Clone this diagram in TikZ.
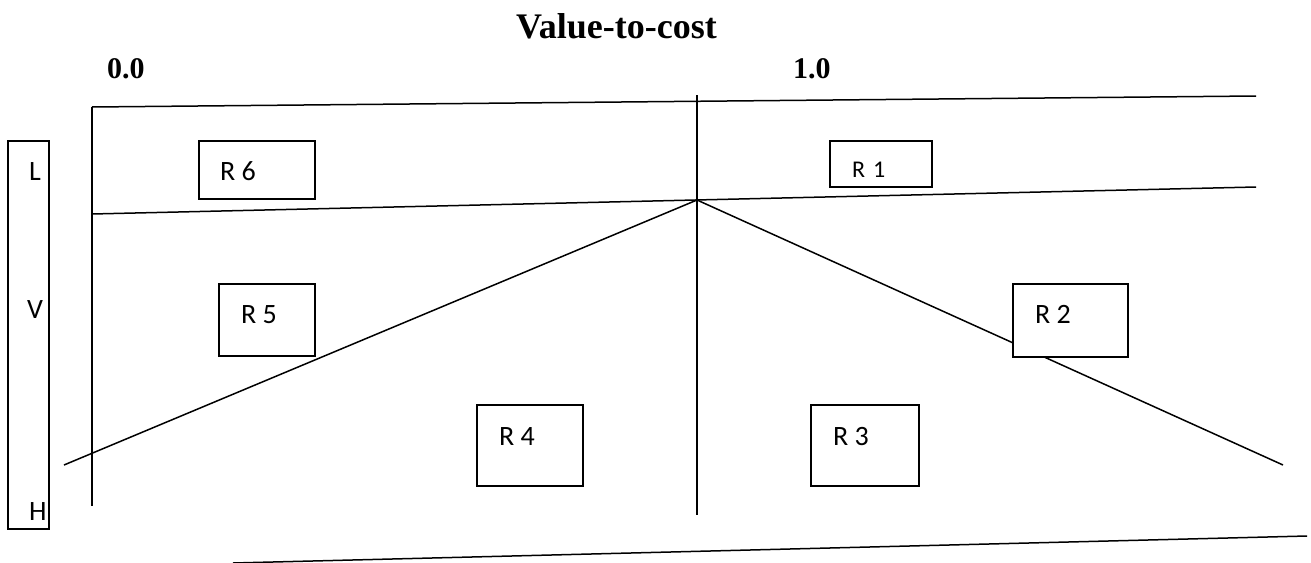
\documentclass[tikz,border=0pt]{standalone}
\usepackage{fontspec}
\setmainfont{Liberation Serif}
\newfontfamily\lblfont{Carlito}
\tikzset{
  ln/.style={line width=1.5pt, line cap=butt},
  box/.style={draw, line width=1.5pt, rectangle, inner sep=0pt},
  lbl/.style={inner sep=0pt, anchor=base west, font=\lblfont\fontsize{28}{30}\selectfont},
  smalllbl/.style={inner sep=0pt, anchor=base west, font=\lblfont\fontsize{24}{26}\selectfont},
  head/.style={inner sep=0pt, anchor=base west, font=\bfseries\fontsize{30}{32}\selectfont},
}
\begin{document}
\begin{tikzpicture}[x=1pt,y=-1pt]
\useasboundingbox (0,0) rectangle (1311,562);
% title and scale
\node[head, font=\bfseries\fontsize{36}{38}\selectfont, anchor=base east] (title) at (717,38) {Value-to-cost};
\node[head] (zero) at (107,78) {0.0};
\node[head] (one) at (793,78) {1.0};
% key points
\coordinate (tl) at (92,107);
\coordinate (tr) at (1256,96);
\coordinate (ml) at (92,214);
\coordinate (mr) at (1256,187);
\coordinate (bl) at (92,506);
\coordinate (apex) at (697,200);
\coordinate (vtop) at (697,95);
\coordinate (vbot) at (697,515);
\coordinate (dl) at (64,465);
\coordinate (dr) at (1283,465);
\coordinate (bbl) at (233,563);
\coordinate (bbr) at (1307,536);
% lines
\draw[ln] (tl) -- (tr);
\draw[ln] (ml) -- (mr);
\draw[ln] (tl) -- (bl);
\draw[ln] (vtop) -- (vbot);
\draw[ln] (apex) -- (dl);
\draw[ln] (apex) -- (dr);
\draw[ln] (bbl) -- (bbr);
% left axis box
\node[box, minimum width=41pt, minimum height=388pt] (axis) at (28.5,335) {};
\node[lbl] (lL) at (29,180) {L};
\node[lbl] (lV) at (27,318) {V};
\node[lbl] (lH) at (29,520) {H};
% region boxes
\node[box, fill=white, minimum width=116pt, minimum height=58pt] (r6) at (257,170) {};
\node[lbl] at (220,180) {R 6};
\node[box, fill=white, minimum width=102pt, minimum height=46pt] (r1) at (881,164) {};
\node[smalllbl] at (852,177) {R\,\,1};
\node[box, fill=white, minimum width=96pt, minimum height=72pt] (r5) at (267,320) {};
\node[lbl] at (241,323) {R 5};
\node[box, fill=white, minimum width=115pt, minimum height=73pt] (r2) at (1070.5,320.5) {};
\node[lbl] at (1035,323) {R 2};
\node[box, fill=white, minimum width=106pt, minimum height=81pt] (r4) at (530,445.5) {};
\node[lbl] at (499,445) {R 4};
\node[box, fill=white, minimum width=108pt, minimum height=81pt] (r3) at (865,445.5) {};
\node[lbl] at (833,445) {R 3};
\end{tikzpicture}
\end{document}
